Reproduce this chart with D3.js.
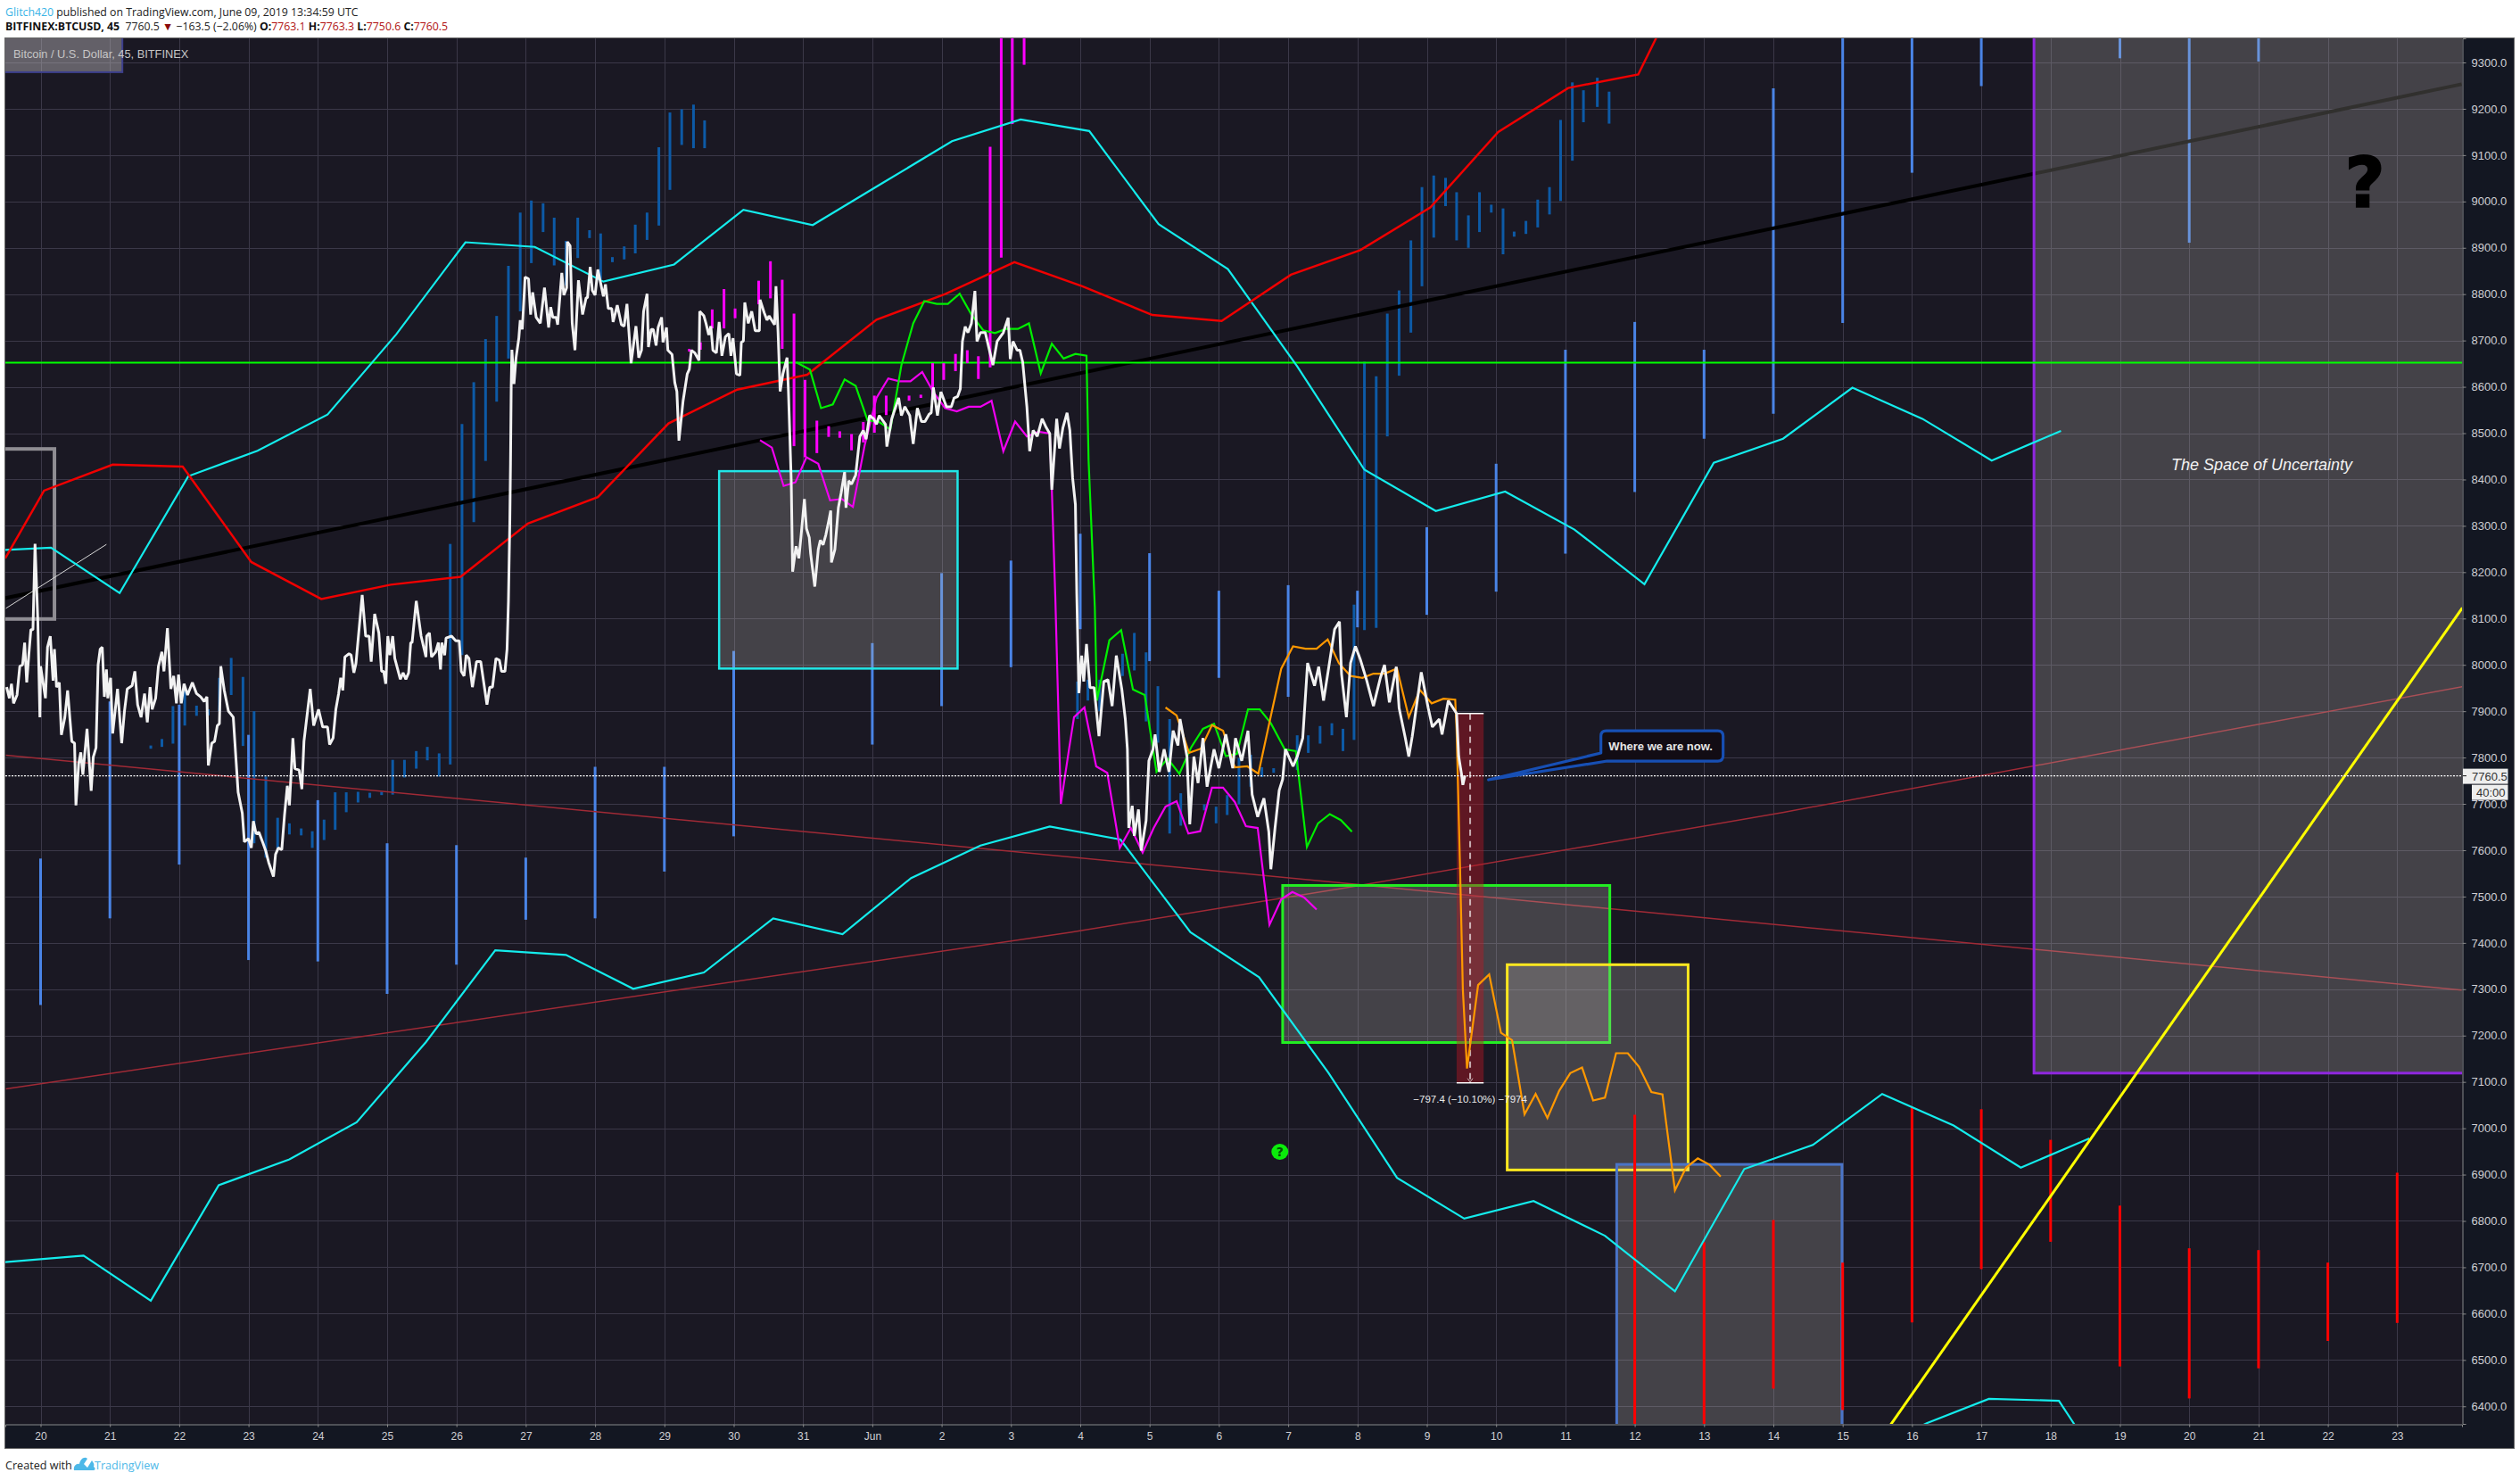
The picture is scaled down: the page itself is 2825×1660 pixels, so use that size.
<!DOCTYPE html>
<html><head><meta charset="utf-8">
<script src="https://cdn.jsdelivr.net/npm/d3@7"></script>
<style>
html,body{margin:0;padding:0;background:#fff}
svg{display:block}
text{font-family:"Open Sans","Noto Sans",sans-serif}
</style></head><body>
<div id="chart"></div>
<script>
// day index: 0 = 20 May 2019
const dayLabels=["20","21","22","23","24","25","26","27","28","29","30","31","Jun","2","3","4","5","6","7","8","9","10","11","12","13","14","15","16","17","18","19","20","21","22","23"];
const priceTicks=[6400,6500,6600,6700,6800,6900,7000,7100,7200,7300,7400,7500,7600,7700,7800,7900,8000,8100,8200,8300,8400,8500,8600,8700,8800,8900,9000,9100,9200,9300];
const lastPrice=7760.5;
const levelGreen=8652;

const whiteLine=[[-0.49,7952],[-0.45,7928],[-0.42,7959],[-0.39,7917],[-0.34,7935],[-0.30,7997],[-0.26,8000],[-0.23,8048],[-0.20,7962],[-0.17,8021],[-0.14,8076],[-0.11,8076],[-0.08,8261],[-0.04,8096],[-0.01,7887],[0,7997],[0.07,7928],[0.10,8038],[0.14,8062],[0.18,7966],[0.20,8034],[0.23,7952],[0.27,7962],[0.30,7849],[0.35,7887],[0.39,7945],[0.45,7835],[0.49,7831],[0.51,7697],[0.55,7787],[0.58,7811],[0.61,7763],[0.67,7862],[0.73,7728],[0.76,7801],[0.80,7821],[0.83,8000],[0.86,8034],[0.89,8038],[0.92,7931],[0.95,7990],[0.97,7928],[1.01,7972],[1.04,7852],[1.11,7948],[1.17,7831],[1.21,7900],[1.25,7948],[1.32,7955],[1.36,7986],[1.40,7914],[1.45,7887],[1.50,7938],[1.54,7876],[1.58,7952],[1.61,7904],[1.66,7928],[1.70,7997],[1.75,8028],[1.78,7986],[1.83,8079],[1.88,7948],[1.92,7976],[1.96,7917],[1.99,7979],[2.03,7917],[2.07,7959],[2.12,7935],[2.19,7962],[2.25,7938],[2.31,7931],[2.36,7921],[2.40,7931],[2.42,7783],[2.47,7831],[2.51,7835],[2.55,7869],[2.58,7873],[2.60,7997],[2.65,7945],[2.71,7900],[2.78,7887],[2.82,7794],[2.85,7725],[2.91,7680],[2.94,7618],[3.00,7625],[3.04,7605],[3.07,7663],[3.11,7635],[3.15,7639],[3.21,7615],[3.25,7598],[3.29,7574],[3.36,7543],[3.39,7591],[3.43,7605],[3.48,7601],[3.52,7677],[3.56,7739],[3.59,7697],[3.62,7780],[3.64,7842],[3.67,7776],[3.73,7773],[3.77,7732],[3.80,7835],[3.89,7948],[3.94,7869],[4.01,7904],[4.07,7866],[4.14,7866],[4.17,7828],[4.22,7842],[4.26,7904],[4.30,7938],[4.33,7972],[4.36,7945],[4.39,8017],[4.45,8024],[4.48,8021],[4.52,7983],[4.55,8003],[4.64,8151],[4.69,8062],[4.74,8062],[4.77,8007],[4.82,8110],[4.88,8069],[4.92,7986],[4.95,7986],[4.98,7959],[5.01,8062],[5.04,8021],[5.08,8062],[5.11,8014],[5.19,7969],[5.23,7983],[5.27,7969],[5.31,7983],[5.34,8048],[5.36,8048],[5.42,8138],[5.49,8062],[5.56,8017],[5.57,8062],[5.61,8069],[5.64,8017],[5.70,8028],[5.74,8048],[5.77,7990],[5.79,8048],[5.83,8021],[5.85,8058],[5.93,8062],[5.99,8052],[6.04,8052],[6.07,7986],[6.11,7976],[6.14,8021],[6.18,8014],[6.23,7952],[6.29,8007],[6.35,8007],[6.41,7945],[6.44,7914],[6.48,7952],[6.52,7952],[6.57,8014],[6.62,8010],[6.65,7986],[6.70,7986],[6.73,8034],[6.75,8138],[6.77,8310],[6.78,8436],[6.79,8603],[6.80,8680],[6.83,8606],[6.86,8663],[6.90,8705],[6.92,8744],[6.95,8724],[6.99,8837],[7.04,8833],[7.07,8756],[7.10,8804],[7.15,8750],[7.21,8737],[7.27,8814],[7.33,8728],[7.36,8772],[7.39,8750],[7.44,8750],[7.46,8734],[7.52,8846],[7.55,8798],[7.59,8814],[7.60,8913],[7.64,8904],[7.67,8737],[7.71,8679],[7.76,8830],[7.82,8756],[7.87,8792],[7.89,8792],[7.93,8859],[7.96,8808],[8.00,8798],[8.04,8853],[8.12,8795],[8.15,8821],[8.19,8769],[8.24,8769],[8.26,8740],[8.32,8776],[8.38,8734],[8.42,8731],[8.46,8779],[8.52,8651],[8.59,8731],[8.63,8663],[8.67,8679],[8.70,8763],[8.75,8801],[8.77,8686],[8.81,8724],[8.84,8724],[8.88,8689],[8.91,8728],[8.96,8750],[8.98,8696],[9.03,8728],[9.05,8679],[9.11,8670],[9.15,8609],[9.18,8590],[9.21,8484],[9.27,8570],[9.33,8628],[9.36,8638],[9.39,8679],[9.44,8673],[9.50,8657],[9.51,8763],[9.57,8753],[9.60,8737],[9.64,8712],[9.67,8731],[9.70,8679],[9.75,8673],[9.79,8740],[9.83,8667],[9.88,8708],[9.93,8715],[9.96,8667],[9.99,8705],[10.04,8628],[10.09,8625],[10.11,8696],[10.14,8699],[10.16,8782],[10.21,8737],[10.26,8763],[10.31,8721],[10.37,8721],[10.38,8788],[10.44,8760],[10.48,8744],[10.51,8753],[10.59,8734],[10.61,8817],[10.64,8718],[10.67,8590],[10.71,8628],[10.77,8663],[10.79,8590],[10.83,8397],[10.85,8201],[10.90,8256],[10.94,8230],[10.97,8275],[11.02,8358],[11.05,8294],[11.09,8275],[11.11,8240],[11.17,8169],[11.22,8249],[11.25,8269],[11.29,8259],[11.33,8281],[11.37,8310],[11.40,8333],[11.41,8221],[11.46,8249],[11.51,8339],[11.55,8371],[11.60,8416],[11.62,8339],[11.66,8397],[11.70,8390],[11.76,8410],[11.82,8493],[11.87,8506],[11.91,8487],[11.96,8538],[12.02,8531],[12.06,8519],[12.10,8538],[12.19,8519],[12.21,8471],[12.28,8531],[12.38,8576],[12.42,8538],[12.47,8557],[12.54,8538],[12.59,8477],[12.65,8554],[12.71,8525],[12.76,8525],[12.82,8541],[12.85,8544],[12.88,8599],[12.94,8538],[12.99,8589],[13.07,8557],[13.14,8557],[13.18,8576],[13.23,8579],[13.27,8596],[13.30,8698],[13.34,8730],[13.38,8717],[13.43,8737],[13.48,8807],[13.51,8698],[13.56,8717],[13.63,8717],[13.68,8685],[13.74,8647],[13.80,8698],[13.89,8717],[13.96,8749],[13.99,8660],[14.03,8698],[14.09,8679],[14.13,8679],[14.17,8653],[14.23,8557],[14.27,8461],[14.32,8506],[14.38,8493],[14.45,8531],[14.51,8512],[14.56,8499],[14.59,8378],[14.66,8531],[14.70,8467],[14.75,8512],[14.81,8544],[14.85,8506],[14.89,8403],[14.93,8346],[14.95,8153],[14.98,7939],[15.02,8020],[15.05,7964],[15.09,8045],[15.14,7951],[15.20,7951],[15.27,7846],[15.34,7964],[15.40,7968],[15.46,7911],[15.52,8020],[15.60,7947],[15.65,7883],[15.68,7818],[15.70,7648],[15.75,7696],[15.78,7631],[15.84,7688],[15.88,7599],[15.95,7664],[15.99,7793],[16.05,7818],[16.08,7850],[16.14,7769],[16.21,7818],[16.28,7769],[16.34,7858],[16.41,7826],[16.44,7883],[16.54,7802],[16.58,7656],[16.64,7802],[16.70,7745],[16.77,7842],[16.83,7737],[16.93,7818],[17.00,7777],[17.10,7850],[17.20,7777],[17.24,7842],[17.33,7793],[17.42,7858],[17.48,7720],[17.56,7672],[17.65,7712],[17.72,7640],[17.75,7559],[17.81,7648],[17.87,7729],[17.92,7753],[17.96,7818],[18.07,7781],[18.13,7802],[18.21,7842],[18.28,8004],[18.38,7955],[18.44,7996],[18.51,7923],[18.57,7980],[18.67,8077],[18.74,8093],[18.77,7980],[18.84,7887],[18.90,8004],[18.97,8040],[19.04,8012],[19.13,7968],[19.23,7911],[19.33,7972],[19.39,8000],[19.46,7919],[19.56,7996],[19.60,7907],[19.69,7842],[19.74,7802],[19.79,7846],[19.92,7984],[20.02,7907],[20.08,7866],[20.18,7883],[20.22,7850],[20.31,7923],[20.43,7895],[20.46,7802],[20.50,7765],[20.52,7741],[20.55,7761]];

const magentaLine=[[10.38,8485],[10.55,8469],[10.72,8386],[10.89,8394],[11.05,8448],[11.22,8434],[11.39,8355],[11.56,8358],[11.72,8341],[11.89,8474],[12.06,8576],[12.23,8618],[12.39,8612],[12.55,8612],[12.72,8632],[12.88,8589],[13.05,8554],[13.22,8547],[13.39,8557],[13.56,8557],[13.72,8570],[13.89,8461],[14.06,8525],[14.23,8493],[14.40,8503],[14.56,8499],[14.59,8378],[14.64,8147],[14.72,7700],[14.84,7820],[14.91,7887],[15.06,7908],[15.23,7781],[15.39,7767],[15.57,7605],[15.73,7648],[15.90,7595],[16.06,7648],[16.23,7694],[16.39,7706],[16.56,7636],[16.73,7641],[16.90,7735],[17.06,7735],[17.23,7704],[17.39,7652],[17.56,7648],[17.73,7439],[17.90,7494],[18.06,7510],[18.23,7498],[18.41,7472]];

const greenLine=[[10.90,8653],[11.10,8637],[11.26,8554],[11.43,8562],[11.60,8616],[11.76,8602],[11.93,8528],[12.09,8525],[12.26,8508],[12.42,8647],[12.59,8737],[12.75,8785],[12.93,8779],[13.09,8779],[13.26,8801],[13.43,8756],[13.60,8722],[13.77,8716],[13.93,8725],[14.10,8725],[14.26,8737],[14.43,8629],[14.59,8693],[14.76,8661],[14.93,8671],[15.09,8667],[15.12,8442],[15.21,8125],[15.24,7923],[15.42,8053],[15.59,8075],[15.76,7947],[15.93,7935],[16.10,7769],[16.26,7798],[16.43,7765],[16.60,7822],[16.77,7862],[16.93,7873],[17.10,7803],[17.26,7808],[17.42,7904],[17.59,7904],[17.75,7874],[17.95,7818],[18.11,7814],[18.27,7607],[18.43,7658],[18.60,7678],[18.76,7665],[18.92,7640]];

const orangeLine=[[16.23,7908],[16.39,7891],[16.57,7810],[16.74,7819],[16.90,7870],[17.06,7858],[17.23,7779],[17.41,7781],[17.57,7765],[17.74,7883],[17.90,7992],[18.07,8040],[18.25,8035],[18.41,8035],[18.57,8055],[18.73,8004],[18.90,7976],[19.07,7972],[19.23,7981],[19.39,7981],[19.57,7992],[19.74,7887],[19.90,7946],[20.07,7917],[20.24,7927],[20.41,7925],[20.43,7858],[20.48,7559],[20.52,7299],[20.58,7129],[20.74,7309],[20.90,7332],[21.07,7206],[21.23,7190],[21.41,7030],[21.57,7074],[21.74,7022],[21.91,7081],[22.07,7119],[22.24,7131],[22.40,7060],[22.57,7066],[22.73,7162],[22.90,7162],[23.06,7133],[23.24,7078],[23.40,7073],[23.58,6866],[23.74,6915],[23.91,6935],[24.08,6921],[24.24,6896]];

const redLine=[[-0.51,8230],[0.05,8376],[1.04,8432],[2.05,8428],[3.04,8222],[4.05,8142],[5.05,8173],[6.06,8190],[7.03,8305],[8.04,8362],[9.06,8521],[10.05,8594],[11.06,8626],[12.06,8745],[13.05,8800],[14.05,8869],[15.03,8817],[16.04,8755],[17.04,8742],[18.04,8842],[19.04,8895],[20.05,8987],[21.03,9150],[22.04,9245],[23.05,9274],[23.30,9350],[23.6,9450]];

const cyanUpper=[[-0.51,8248],[0.15,8253],[1.14,8155],[2.13,8407],[3.13,8462],[4.14,8540],[5.13,8713],[6.13,8912],[7.13,8902],[8.12,8827],[9.14,8864],[10.14,8982],[11.14,8949],[12.15,9040],[13.15,9130],[14.14,9177],[15.13,9152],[16.13,8951],[17.13,8854],[18.13,8644],[19.10,8421],[20.13,8332],[21.13,8374],[22.13,8292],[23.14,8174],[24.14,8436],[25.14,8488],[26.14,8598],[27.15,8531],[28.15,8441],[29.15,8505]];

const cyanLower=[[-0.51,6711],[0.62,6725],[1.59,6628],[2.57,6877],[3.59,6933],[4.56,7013],[5.56,7186],[6.56,7384],[7.58,7374],[8.55,7301],[9.57,7336],[10.57,7453],[11.57,7419],[12.56,7540],[13.56,7610],[14.56,7651],[15.58,7623],[16.59,7423],[17.58,7326],[18.58,7120],[19.57,6893],[20.54,6805],[21.54,6843],[22.57,6768],[23.58,6648],[24.58,6912],[25.57,6964],[26.57,7074],[27.60,7006],[28.57,6915],[29.56,6978]];

const cyanBottom=[[26.5,6310],[27.22,6364],[28.11,6416],[29.12,6412],[29.33,6364],[29.5,6320]];

const blackTrend=[[-0.51,8144],[34.93,9253]];
const thinWhite=[[-0.5,8122],[0.95,8260]];
const yellowTrend=[[26.2,6255],[34.94,8123]];
const redDown=[[-0.5,7805],[34.93,7298]];
const redUp=[[-0.5,7085],[14.86,7423],[18.8,7518],[25.15,7682],[34.94,7953]];

// [day, high, low]
const darkBars=[[1.59,7826,7819],[1.75,7840,7823],[1.91,7911,7830],[2.08,7952,7869],[2.25,7912,7890],[2.42,7904,7891],[2.58,7972,7900],[2.75,8015,7935],[2.92,7974,7825],[3.08,7900,7615],[3.25,7759,7584],[3.42,7670,7605],[3.59,7658,7634],[3.76,7647,7632],[3.92,7641,7605],[4.09,7666,7622],[4.25,7725,7644],[4.41,7725,7682],[4.58,7726,7703],[4.75,7724,7713],[4.92,7726,7719],[5.08,7795,7720],[5.25,7795,7757],[5.42,7814,7776],[5.58,7823,7794],[5.75,7809,7759],[5.91,8261,7785],[6.08,8520,8021],[6.25,8610,8308],[6.42,8703,8440],[6.58,8753,8568],[6.75,8861,8661],[6.92,8976,8763],[7.08,9002,8867],[7.25,8996,8934],[7.41,8965,8862],[7.58,8915,8819],[7.75,8965,8878],[7.92,8938,8921],[8.08,8931,8832],[8.25,8880,8869],[8.42,8903,8875],[8.58,8950,8888],[8.75,8976,8917],[8.92,9117,8948],[9.08,9192,9025],[9.25,9199,9122],[9.42,9209,9115],[9.58,9175,9115],[14.96,7964,7883],[15.11,7968,7923],[15.28,7968,7900],[15.61,8024,7976],[15.78,8069,7988],[15.95,8027,7878],[16.12,7954,7832],[16.29,7883,7636],[16.45,7723,7653],[16.79,7699,7686],[16.96,7694,7658],[17.12,7719,7676],[17.29,7799,7699],[17.46,7806,7737],[17.62,7779,7758],[17.79,7777,7767],[18.13,7848,7773],[18.29,7848,7810],[18.46,7868,7830],[18.63,7874,7848],[18.79,7862,7814],[18.95,8130,7838],[19.10,8654,8075],[19.27,8623,8080],[19.43,8758,8493],[19.60,8808,8624],[19.77,8916,8717],[19.93,9031,8817],[20.10,9056,8922],[20.27,9051,8990],[20.43,9020,8916],[20.60,8970,8900],[20.76,9020,8934],[20.93,8993,8976],[21.10,8985,8886],[21.26,8935,8924],[21.43,8958,8930],[21.60,9004,8944],[21.77,9031,8972],[21.93,9176,9001],[22.10,9257,9088],[22.26,9240,9171],[22.46,9267,9204],[22.63,9237,9168]];

const magentaBars=[[9.36,8682,8676],[9.52,8696,8680],[9.69,8767,8726],[9.86,8811,8726],[10.02,8769,8748],[10.36,8829,8778],[10.53,8871,8791],[10.70,8831,8682],[10.87,8758,8472],[11.03,8615,8448],[11.20,8527,8457],[11.37,8515,8492],[11.53,8504,8490],[11.70,8498,8463],[11.87,8524,8480],[12.03,8581,8501],[12.20,8581,8539],[12.53,8581,8570],[12.70,8583,8576],[12.87,8651,8576],[13.03,8651,8615],[13.20,8671,8634],[13.37,8679,8651],[13.53,8666,8617],[13.70,9118,8642],[13.86,9400,8879],[14.02,9400,9167],[14.19,9400,9295]];

const lightBars=[[0,7582,7266],[1,7921,7453],[2,7914,7569],[3,7849,7363],[4,7708,7360],[5,7615,7290],[6,7611,7353],[7,7584,7450],[8,7780,7453],[9,7780,7554],[10,8030,7630],[12,8047,7828],[13,8198,7911],[14,8225,7995],[15,8283,8077],[16,8241,8008],[17,8160,7972],[18,8172,7931],[19,8160,8081],[20,8297,8108],[21,8434,8158],[22,8680,8240],[23,8740,8373],[24,8680,8488],[25,9244,8542],[26,9400,8738],[27,9400,9062],[28,9400,9249],[30,9400,9309],[31,9400,8911],[32,9400,9302]];

const redBars=[[23,7029,6300],[24,6754,6300],[25,6802,6438],[26,6710,6392],[27,7046,6581],[28,7041,6696],[29,6975,6755],[30,6833,6486],[31,6741,6417],[32,6737,6482],[33,6710,6541],[34,6904,6580]];

// [dayFrom, dayTo, priceTop, priceBottom]
const cyanBox=[9.79,13.23,8418,7992];
const greenBox=[17.92,22.64,7524,7185];
const yellowBox=[21.16,23.77,7353,6910];
const blueBox=[22.74,25.99,6922,6200];
const purpleBox=[28.76,35.5,9500,7119];
const greyBox=[-0.7,0.2,8466,8099];
const legendBox=[-0.7,1.18,9500,9279];
const measure=[20.43,20.82,7895,7098];

const W=2825,H=1660,L=6,R=2760,T=43,B=1596,AxR=2818,AxB=1623;
const x=d3.scaleLinear().domain([(L-45.5)/77.7,(R-45.5)/77.7]).range([L,R]);
const y=d3.scaleLinear().domain([9300-(B-70)/0.5194,9300-(T-70)/0.5194]).range([B,T]);
const line=d3.line().x(d=>x(d[0])).y(d=>y(d[1]));

const svg=d3.select("#chart").append("svg").attr("width",W).attr("height",H).attr("viewBox",`0 0 ${W} ${H}`);
svg.append("rect").attr("width",W).attr("height",H).attr("fill","#fff");
// panels
svg.append("rect").attr("x",L).attr("y",T).attr("width",AxR-L).attr("height",AxB-T).attr("fill","#131722");
svg.append("rect").attr("x",L).attr("y",T).attr("width",R-L).attr("height",B-T).attr("fill","#1a1823");
svg.append("defs").append("clipPath").attr("id","plot").append("rect").attr("x",L).attr("y",T).attr("width",R-L).attr("height",B-T);
const g=svg.append("g").attr("clip-path","url(#plot)");

// grid
g.append("g").selectAll("line").data(priceTicks).join("line")
 .attr("x1",L).attr("x2",R).attr("y1",d=>Math.round(y(d))+.5).attr("y2",d=>Math.round(y(d))+.5).attr("stroke","#3b3848");
g.append("g").selectAll("line").data(dayLabels.map((_,i)=>i)).join("line")
 .attr("y1",T).attr("y2",B).attr("x1",d=>Math.round(x(d))+.5).attr("x2",d=>Math.round(x(d))+.5).attr("stroke","#3b3848");

function bars(par,data,color,w){
  par.append("g").selectAll("line").data(data).join("line")
   .attr("x1",d=>x(d[0])).attr("x2",d=>x(d[0])).attr("y1",d=>y(d[1])).attr("y2",d=>y(d[2]))
   .attr("stroke",color).attr("stroke-width",w);
}
function path(par,data,color,w,extra){
  return par.append("path").attr("d",line(data)).attr("fill","none").attr("stroke",color).attr("stroke-width",w).attr("stroke-linejoin","miter").attr("stroke-miterlimit",4);
}
function box(par,b,stroke,w,fill){
  par.append("rect").attr("x",x(b[0])).attr("width",x(b[1])-x(b[0])).attr("y",y(b[2])).attr("height",y(b[3])-y(b[2]))
   .attr("fill",fill).attr("stroke",stroke).attr("stroke-width",w);
}
const boxFill="rgba(195,192,185,0.25)";

// under the drawing boxes
bars(g,darkBars,"#0d5aa6",3);
bars(g,lightBars,"#4a84e6",3);
path(g,blackTrend,"#000",4);
path(g,redDown,"#a02a36",1.5);
path(g,redUp,"#a02a36",1.5);

// boxes
box(g,cyanBox,"#21e6e6",2.5,boxFill);
box(g,purpleBox,"#9027e0",3,boxFill);
box(g,greenBox,"#22ee22",3,boxFill);
box(g,yellowBox,"#ffe820",3,boxFill);
box(g,blueBox,"#4a74c8",3,boxFill);
box(g,greyBox,"#8f8d93",4,"none");
box(g,legendBox,"#3d3f8c",2,"rgba(200,198,200,0.42)");

// measure tool
const mx=(x(measure[0])+x(measure[1]))/2;
g.append("rect").attr("x",x(measure[0])).attr("width",x(measure[1])-x(measure[0])).attr("y",y(measure[2])).attr("height",y(measure[3])-y(measure[2])).attr("fill","rgba(190,25,35,0.42)");
g.append("line").attr("x1",mx).attr("x2",mx).attr("y1",y(measure[2])).attr("y2",y(measure[3])).attr("stroke","rgba(255,255,255,.65)").attr("stroke-width",2).attr("stroke-dasharray","7,6");
[measure[2],measure[3]].forEach(p=>g.append("line").attr("x1",x(measure[0])).attr("x2",x(measure[1])).attr("y1",y(p)).attr("y2",y(p)).attr("stroke","#fff").attr("stroke-width",1.5));
g.append("path").attr("d",`M${mx-3},${y(measure[3])-5}L${mx},${y(measure[3])-1}L${mx+3},${y(measure[3])-5}`).attr("fill","none").attr("stroke","rgba(255,255,255,.7)");

// horizontal level + last price
g.append("line").attr("x1",L).attr("x2",R).attr("y1",y(levelGreen)).attr("y2",y(levelGreen)).attr("stroke","#00ff00").attr("stroke-width",2);

path(g,thinWhite,"#d8d8d8",1);
bars(g,magentaBars,"#ff00ff",3);
bars(g,redBars,"#ff0000",3);
path(g,cyanUpper,"#14ecec",2.2);
path(g,cyanLower,"#14ecec",2.2);
path(g,cyanBottom,"#14ecec",2.2);
path(g,redLine,"#f00000",2.5);
path(g,yellowTrend,"#ffff00",3);
path(g,magentaLine,"#f000f0",2.2);
path(g,greenLine,"#00ee00",2.2);
path(g,orangeLine,"#ff9800",2.2);
path(g,whiteLine,"#f2f2f2",3).attr("stroke-linejoin","bevel");
g.append("line").attr("x1",L).attr("x2",R).attr("y1",y(lastPrice)).attr("y2",y(lastPrice)).attr("stroke","#fff").attr("stroke-width",1.2).attr("stroke-dasharray","2,1.5");

// callout
const cx=x(20.89),cy=y(7752);
g.append("path").attr("transform",`translate(${cx},${cy})`)
 .attr("d","M0,0L126,-30L126,-49Q126,-55 132,-55L257,-55Q263,-55 263,-49L263,-27Q263,-21 257,-21L133,-21Z")
 .attr("fill","#120c14").attr("stroke","#174fb4").attr("stroke-width",3.2).attr("stroke-linejoin","round");
g.append("text").attr("x",cx+193).attr("y",cy-33).attr("text-anchor","middle").attr("fill","#e6e6e6").attr("font-size",13).attr("font-weight",700).style("font-family","'Liberation Sans',sans-serif").text("Where we are now.");

// measure label
g.append("text").attr("x",mx).attr("y",y(measure[3])+22).attr("text-anchor","middle").attr("fill","#e8e8e8").attr("font-size",11.5).style("font-family","'Liberation Sans',sans-serif").text("\u2212797.4 (\u221210.10%) \u22127974");

// green ? marker
g.append("ellipse").attr("cx",x(17.88)).attr("cy",1291).attr("rx",9.5).attr("ry",9).attr("fill","#0bec0b");
g.append("text").attr("x",x(17.88)).attr("y",1296).attr("text-anchor","middle").attr("fill","#064f06").attr("font-size",14).attr("font-weight",700).style("font-family","'DejaVu Sans',sans-serif").text("?");

// box annotations
g.append("text").attr("x",2434).attr("y",y(8420)).attr("fill","#f2f2f2").attr("font-size",18).attr("font-style","italic").style("font-family","'Liberation Sans',sans-serif").text("The Space of Uncertainty");
g.append("text").attr("x",2651).attr("y",232).attr("text-anchor","middle").attr("fill","#000").attr("stroke","#000").attr("stroke-width",1.6).attr("font-size",78).attr("font-weight",700).style("font-family","'DejaVu Sans',sans-serif").text("?");

g.append("text").attr("x",15).attr("y",65).attr("fill","#c6c6c6").attr("font-size",12.8).style("font-family","'Liberation Sans',sans-serif").text("Bitcoin / U.S. Dollar, 45, BITFINEX");

// frame
svg.append("rect").attr("x",L-.5).attr("y",T-.5).attr("width",AxR-L+1).attr("height",AxB-T+1).attr("fill","none").attr("stroke","#666");

// axes
const yAxis=d3.axisRight(y).tickValues(priceTicks).tickFormat(d3.format(".1f")).tickSize(4).tickPadding(6);
const yg=svg.append("g").attr("transform",`translate(${R+.5},0)`).call(yAxis);
const xAxis=d3.axisBottom(x).tickValues(dayLabels.map((_,i)=>i)).tickFormat(i=>dayLabels[i]).tickSize(3).tickPadding(6);
const xg=svg.append("g").attr("transform",`translate(0,${B+.5})`).call(xAxis);
[yg,xg].forEach(a=>{a.selectAll("text").attr("fill","#cfcfd4").attr("font-size",12).style("font-family","'Liberation Sans',sans-serif");
 a.selectAll("line").attr("stroke","#8a8a8a");a.select(".domain").attr("stroke","#8a8a8a");});
yg.selectAll("text").attr("font-size",13);

// last-price tags
const ly=y(lastPrice);
svg.append("rect").attr("x",R+1).attr("y",ly-8).attr("width",50.5).attr("height",17).attr("fill","#eeeeee");
svg.append("line").attr("x1",R+1).attr("x2",R+5).attr("y1",ly).attr("y2",ly).attr("stroke","#111");
svg.append("text").attr("x",R+11).attr("y",ly+5).attr("fill","#333").attr("font-size",13).style("font-family","'Liberation Sans',sans-serif").text("7760.5");
svg.append("rect").attr("x",R+11).attr("y",ly+10).attr("width",40.5).attr("height",17).attr("fill","#eeeeee");
svg.append("text").attr("x",R+16).attr("y",ly+23).attr("fill","#333").attr("font-size",13).style("font-family","'Liberation Sans',sans-serif").text("40:00");

// header
const f="'Open Sans',sans-serif";
const h1=svg.append("text").attr("x",6).attr("y",18).attr("font-size",12.3).attr("fill","#222").style("font-family",f);
h1.append("tspan").attr("fill","#3ab4e6").text("Glitch420");
h1.append("tspan").text(" published on TradingView.com, June 09, 2019 13:34:59 UTC");
const h2=svg.append("text").attr("x",6).attr("y",34).attr("font-size",12.3).attr("fill","#222").style("font-family",f).style("white-space","pre");
const red="#b01010";
[["BITFINEX:BTCUSD, 45",700,"#111"],["  7760.5 ",400,"#222"],["\u25BC",700,"#8a0a0a"],[" \u2212163.5 (\u22122.06%) ",400,"#222"],["O:",700,"#111"],["7763.1 ",400,red],["H:",700,"#111"],["7763.3 ",400,red],["L:",700,"#111"],["7750.6 ",400,red],["C:",700,"#111"],["7760.5",400,red]]
 .forEach(s=>h2.append("tspan").attr("font-weight",s[1]).attr("fill",s[2]).text(s[0]));

// footer
svg.append("text").attr("x",6).attr("y",1647).attr("font-size",12.6).attr("fill","#222").style("font-family",f).text("Created with");
svg.append("path").attr("transform","translate(83,1632)").attr("fill","#4db8e8")
 .attr("d","M0,16C-1,11 3,8 6,9C7,3 12,0 15,3L11,9L15,13L20,5C22,8 23,9 22,12C24,13 24,16 22,16Z");
svg.append("text").attr("x",106).attr("y",1647).attr("font-size",12.6).attr("fill","#4db8e8").style("font-family",f).text("TradingView");
</script>
</body></html>
